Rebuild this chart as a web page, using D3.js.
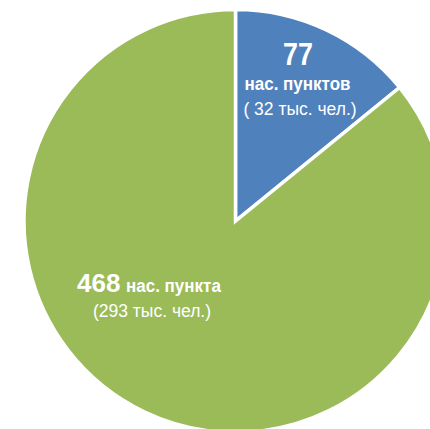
<!DOCTYPE html>
<html>
<head>
<meta charset="utf-8">
<script src="https://cdn.jsdelivr.net/npm/d3@7"></script>
<style>
  html, body { margin: 0; padding: 0; background: #fff; }
  svg text { font-family: "Liberation Sans", Arial, sans-serif; fill: #fff; }
</style>
</head>
<body>
<div id="chart"></div>
<script>
// Data
const settlements = [77, 468];
const settlementWords = ["нас. пунктов", "нас. пункта"];
const population = ["( 32 тыс. чел.)", "(293 тыс. чел.)"];
const colors = ["#4F81BD", "#9BBB59"];

function drawPie (chartDiv) {

    const width = 430
    const height = 429

    const cx = 235.5
    const cy = 221
    const radius = 211.5

    const svg = d3.select(chartDiv)
        .append("svg")
        .attr("width", width)
        .attr("height", height);

    const pie = d3.pie()
        .sort(null)
        .value(d => d);

    const arc = d3.arc()
        .innerRadius(0)
        .outerRadius(radius);

    const g = svg.append("g")
        .attr("transform", `translate(${cx},${cy})`);

    g.selectAll(".slice")
        .data(pie(settlements))
        .enter()
        .append("path")
        .attr("class", "slice")
        .attr("d", arc)
        .style("fill", (d, i) => colors[i])
        .style("stroke", "#fff")
        .style("stroke-width", 3.5)
        .style("stroke-linejoin", "miter");

    function label (x, y, size, bold, squeeze, anchor) {
        return g.append("text")
            .attr("text-anchor", anchor || "middle")
            .attr("transform", `translate(${x},${y}) scale(${squeeze},1)`)
            .style("font-size", size + "px")
            .style("font-weight", bold ? "bold" : "normal");
    }

    // blue slice label: stacked three lines
    label(62.5, -156, 32, true, 0.84).text(settlements[0]);
    label(62, -131, 19, true, 0.895).text(settlementWords[0]);
    label(64.5, -106, 17.5, false, 1).text(population[0]);

    // green slice label: number and words on one line
    label(-158.5, 70.5, 26, true, 1, "start").text(settlements[1]);
    label(-109.5, 70.5, 19, true, 0.895, "start").text(settlementWords[1]);
    label(-83.5, 96, 17.5, false, 1).text(population[1]);
}

document.addEventListener("DOMContentLoaded", function() {
    drawPie("#chart");
});
</script>
</body>
</html>
